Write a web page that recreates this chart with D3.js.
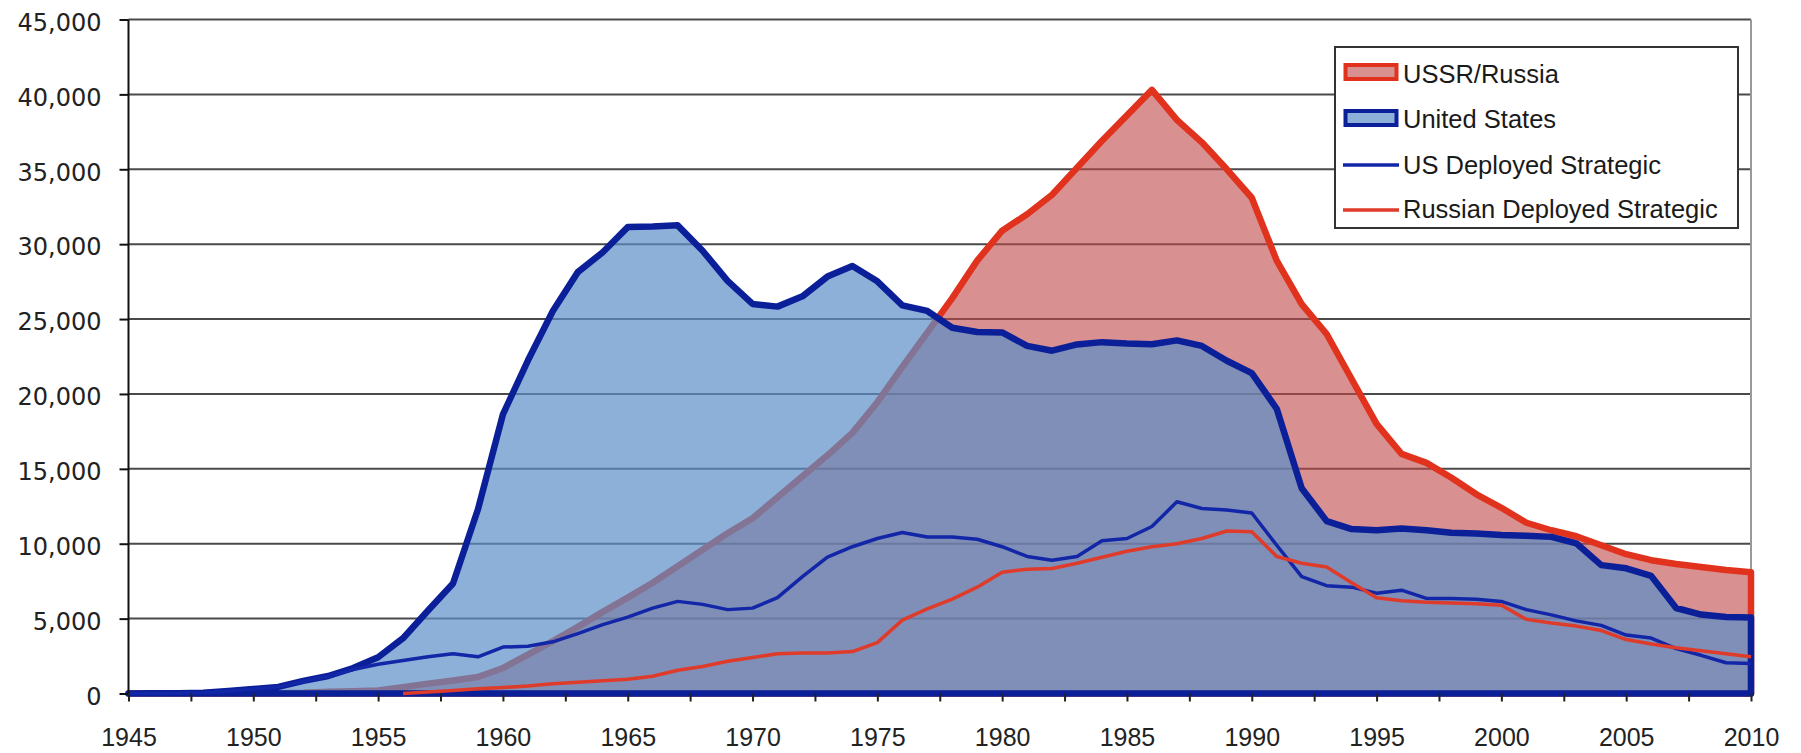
<!DOCTYPE html>
<html><head><meta charset="utf-8">
<script src="https://cdn.jsdelivr.net/npm/d3@7"></script>
<style>body{margin:0;background:#fff} svg{display:block}</style>
</head><body><svg id="c" width="1801" height="753"></svg>
<script>
const years = d3.range(1945, 2011);
const usTotal = [2,9,13,50,170,299,438,841,1169,1703,
  2422,3692,5543,7345,12298,18638,22229,25540,28133,29463,
  31139,31175,31255,29561,27552,26008,25830,26516,27835,28537,
  27519,25914,25542,24418,24138,24104,23208,22886,23305,23459,
  23368,23317,23575,23205,22217,21392,19008,13708,11511,10979,
  10904,11011,10903,10732,10685,10577,10526,10457,10027,8570,
  8360,7853,5709,5273,5113,5066];
const ussrTotal = [0,0,0,0,1,5,25,50,120,150,
  200,426,660,869,1100,1700,2600,3500,4450,5450,
  6400,7400,8500,9600,10700,11700,13100,14500,15900,17400,
  19450,21800,24100,26400,28900,30900,32000,33300,35100,36900,
  38600,40300,38300,36800,35000,33100,28900,26000,24000,21000,
  18000,16000,15400,14400,13300,12400,11400,10900,10500,9900,
  9300,8900,8650,8450,8250,8100];
const usDeployed = [0,0,10,50,150,300,430,800,1150,1600,
  1950,2200,2450,2650,2450,3100,3150,3450,4000,4600,
  5100,5700,6150,5950,5600,5700,6400,7800,9100,9800,
  10350,10750,10450,10450,10300,9800,9150,8900,9150,10200,
  10350,11150,12800,12350,12250,12050,9900,7800,7200,7100,
  6700,6900,6350,6350,6300,6150,5600,5250,4850,4550,
  3900,3700,3000,2550,2050,2000];
const ruDeployed = [null,null,null,null,null,null,null,null,null,null,
  null,0,100,200,320,400,500,650,750,850,
  950,1150,1550,1800,2150,2400,2650,2700,2700,2800,
  3400,4900,5650,6300,7100,8100,8300,8350,8700,9100,
  9500,9800,10000,10350,10850,10800,9150,8700,8450,7400,
  6400,6200,6100,6050,6000,5900,4950,4700,4500,4200,
  3600,3300,3050,2850,2650,2450];
const yTicks = [0,5000,10000,15000,20000,25000,30000,35000,40000,45000];
const xLabelYears = [1945,1950,1955,1960,1965,1970,1975,1980,1985,1990,1995,2000,2005,2010];
const xMinorTicks = d3.range(1945, 2010.1, 2.5);
const legendLabels = ["USSR/Russia","United States","US Deployed Strategic","Russian Deployed Strategic"];

const C = {
  redLine: "#e0321c", redFill: "rgba(190,70,70,0.6)",
  blueLine: "#0b1f98", blueFill: "rgba(91,142,199,0.7)",
  thinBlue: "#1226a8", thinRed: "#df3b2a"
};

const svg = d3.select("#c");
const x = d3.scaleLinear().domain([1945, 2010]).range([128.5, 1751]);
const y = d3.scaleLinear().domain([0, 45000]).range([693.5, 19.5]);

// gridlines
svg.append("g").selectAll("line").data(yTicks.filter(d => d > 0)).join("line")
  .attr("x1", x(1945)).attr("x2", x(2010))
  .attr("y1", d => y(d)).attr("y2", d => y(d))
  .attr("stroke", "#4a4a4a").attr("stroke-width", 2);
// right border
svg.append("line").attr("x1", x(2010)).attr("x2", x(2010)).attr("y1", y(45000)).attr("y2", y(0))
  .attr("stroke", "#999").attr("stroke-width", 2);

function closedArea(vals) {
  const pts = years.map((yr, i) => [x(yr), y(vals[i])]);
  pts.push([x(2010), y(0)]);
  pts.push([x(1945), y(0)]);
  return d3.line()(pts) + "Z";
}

// USSR area
svg.append("path").attr("d", closedArea(ussrTotal))
  .attr("fill", C.redFill).attr("stroke", C.redLine).attr("stroke-width", 6.5)
  .attr("stroke-linejoin", "round");
// US area
svg.append("path").attr("d", closedArea(usTotal))
  .attr("fill", C.blueFill).attr("stroke", C.blueLine).attr("stroke-width", 6.5)
  .attr("stroke-linejoin", "round");

const line = d3.line().defined(d => d[1] !== null).x(d => x(d[0])).y(d => y(d[1]));
svg.append("path").attr("d", line(years.map((yr, i) => [yr, usDeployed[i]])))
  .attr("fill", "none").attr("stroke", C.thinBlue).attr("stroke-width", 3.5).attr("stroke-linejoin", "round");
svg.append("path").attr("d", line(years.map((yr, i) => [yr, ruDeployed[i]])))
  .attr("fill", "none").attr("stroke", C.thinRed).attr("stroke-width", 3.5).attr("stroke-linejoin", "round");

// y axis
const yAxis = svg.append("g").attr("transform", `translate(${x(1945)},0)`)
  .call(d3.axisLeft(y).tickValues(yTicks).tickSize(9).tickPadding(18).tickFormat(d3.format(",")));
yAxis.select(".domain").attr("stroke", "#111").attr("stroke-width", 2).attr("d", `M0,${y(45000)}V${y(0)}`);
yAxis.selectAll(".tick line").attr("stroke", "#111").attr("stroke-width", 2);
yAxis.selectAll(".tick text").attr("font-family", "'DejaVu Sans', Verdana, sans-serif")
  .attr("font-size", 24).attr("fill", "#222").attr("dy", "0.45em");

// x axis minor ticks
const xAxisTicks = svg.append("g").attr("transform", `translate(0,${y(0)})`)
  .call(d3.axisBottom(x).tickValues(xMinorTicks).tickSize(8).tickFormat(""));
xAxisTicks.select(".domain").remove();
xAxisTicks.selectAll(".tick line").attr("stroke", "#222").attr("stroke-width", 2);
// x axis labels
const xAxis = svg.append("g").attr("transform", `translate(0,${y(0)})`)
  .call(d3.axisBottom(x).tickValues(xLabelYears).tickSize(0).tickPadding(35).tickFormat(d3.format("d")));
xAxis.select(".domain").remove();
xAxis.selectAll(".tick text").attr("font-family", "'Liberation Sans', Arial, sans-serif")
  .attr("font-size", 25).attr("fill", "#222");

// legend
const lg = svg.append("g");
lg.append("rect").attr("x", 1335).attr("y", 47).attr("width", 403).attr("height", 181)
  .attr("fill", "#fff").attr("stroke", "#333").attr("stroke-width", 2);
const rowY = [72, 118, 165, 210];
lg.append("rect").attr("x", 1345.5).attr("y", rowY[0] - 7).attr("width", 51).attr("height", 14)
  .attr("fill", C.redFill).attr("stroke", C.redLine).attr("stroke-width", 4);
lg.append("rect").attr("x", 1345.5).attr("y", rowY[1] - 7).attr("width", 51).attr("height", 14)
  .attr("fill", C.blueFill).attr("stroke", C.blueLine).attr("stroke-width", 4);
lg.append("line").attr("x1", 1343).attr("x2", 1399).attr("y1", rowY[2]).attr("y2", rowY[2])
  .attr("stroke", C.thinBlue).attr("stroke-width", 3.5);
lg.append("line").attr("x1", 1343).attr("x2", 1399).attr("y1", rowY[3]).attr("y2", rowY[3])
  .attr("stroke", C.thinRed).attr("stroke-width", 3.5);
lg.selectAll("text").data(legendLabels).join("text")
  .attr("x", 1403).attr("y", (d, i) => rowY[i] + [2, 1.5, 0, -1][i]).attr("dy", "0.35em")
  .attr("font-family", "'Liberation Sans', Arial, sans-serif").attr("font-size", 25.5)
  .attr("fill", "#1a1a1a").text(d => d);
</script></body></html>
